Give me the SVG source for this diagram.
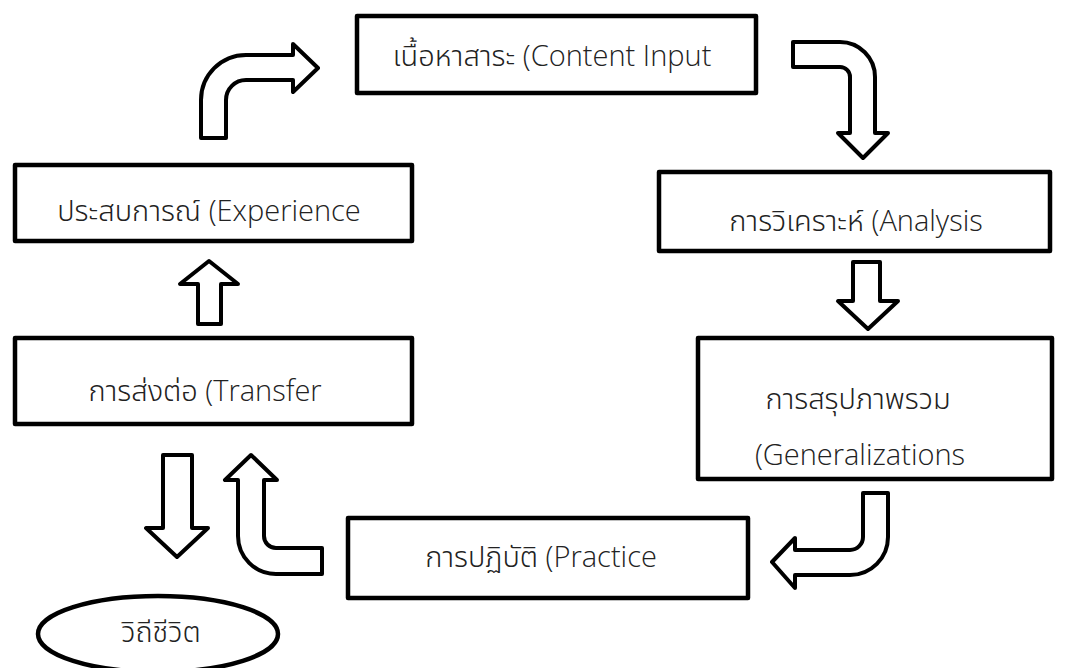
<svg xmlns="http://www.w3.org/2000/svg" width="1066" height="668" viewBox="0 0 1066 668">
<style>
.box{fill:#fff;stroke:#000;stroke-width:4.5;stroke-linejoin:round}
.arr{fill:#fff;stroke:#000;stroke-width:4;stroke-linejoin:round}
.t{font-family:"Noto Sans Thai","Noto Sans","Liberation Sans",sans-serif;font-size:29px;font-weight:300;fill:#222;text-anchor:middle}
.l{font-family:"Open Sans","Noto Sans",sans-serif;font-weight:300}
</style>
<rect width="1066" height="668" fill="#fff"/>
<g id="connectors">
<path class="arr" d="M201,138 L201,100 A45,45 0 0 1 246,55 L293,55 L293,44 L318,68 L293,92 L293,80 L246,80 A20,20 0 0 0 226,100 L226,138 Z"/>
<path class="arr" d="M793,42 L840,42 A35,35 0 0 1 875,77 L875,133 L888,133 L863,158 L838,133 L850,133 L850,77 A10,10 0 0 0 840,67 L793,67 Z"/>
<path class="arr" d="M853,262 L880,262 L880,301 L898,301 L868,329 L838,301 L853,301 Z"/>
<path class="arr" d="M863,493 L888,493 L888,537 A38,38 0 0 1 850,575 L795,575 L795,588 L772,562 L795,538 L795,550 L850,550 A13,13 0 0 0 863,537 Z"/>
<path class="arr" d="M322,548 L276,548 A12,12 0 0 1 264,536 L264,480 L277,480 L251,455 L225,480 L238,480 L238,536 A38,38 0 0 0 276,574 L322,574 Z"/>
<path class="arr" d="M163,455 L192,455 L192,528 L208,528 L177,557 L146,528 L163,528 Z"/>
<path class="arr" d="M198,324 L221,324 L221,284 L238,284 L209,261 L180,284 L198,284 Z"/>
</g>
<g id="content">
<rect class="box" x="357" y="16" width="399" height="77"/>
<text class="t" x="552" y="66">เนื้อหาสาระ <tspan class="l">(Content Input</tspan></text>
</g>
<g id="experience">
<rect class="box" x="15" y="165" width="397" height="76"/>
<text class="t" x="209" y="221">ประสบการณ์ <tspan class="l">(Experience</tspan></text>
</g>
<g id="analysis">
<rect class="box" x="659" y="172" width="391" height="79"/>
<text class="t" x="856" y="231">การวิเคราะห์ <tspan class="l">(Analysis</tspan></text>
</g>
<g id="transfer">
<rect class="box" x="15" y="338" width="397" height="86"/>
<text class="t" x="205" y="401">การส่งต่อ <tspan class="l">(Transfer</tspan></text>
</g>
<g id="generalizations">
<rect class="box" x="698" y="338" width="354" height="141"/>
<text class="t" x="858" y="409">การสรุปภาพรวม</text>
<text class="t l" x="860" y="465">(Generalizations</text>
</g>
<g id="practice">
<rect class="box" x="348" y="518" width="400" height="80"/>
<text class="t" x="541" y="567">การปฏิบัติ <tspan class="l">(Practice</tspan></text>
</g>
<g id="lifestyle">
<ellipse class="box" cx="158" cy="634" rx="120" ry="38"/>
<text class="t" x="161" y="642">วิถีชีวิต</text>
</g>
</svg>
